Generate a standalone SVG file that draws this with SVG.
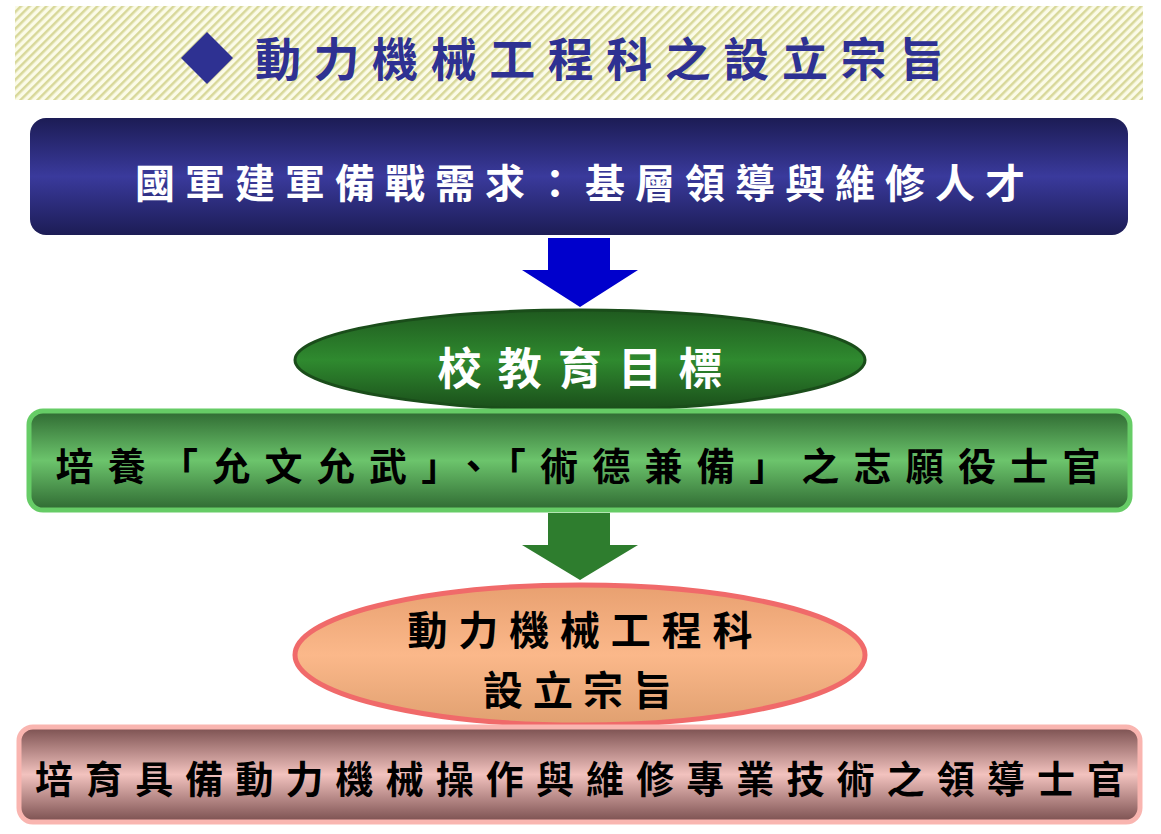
<svg xmlns="http://www.w3.org/2000/svg" width="1161" height="834" viewBox="0 0 1161 834">
<defs>
<pattern id="hatch" width="6" height="6" patternUnits="userSpaceOnUse" patternTransform="rotate(45)">
<rect width="6" height="6" fill="#fbfbe8"/><rect width="2.5" height="6" fill="#d8d89a"/>
</pattern>
<linearGradient id="gBlue" x1="0" y1="0" x2="0" y2="1"><stop offset="0" stop-color="#1c1c55"/><stop offset="0.5" stop-color="#3a3a9c"/><stop offset="1" stop-color="#1c1c55"/></linearGradient>
<linearGradient id="gGreenE" x1="0" y1="0" x2="0" y2="1"><stop offset="0" stop-color="#1f5a1f"/><stop offset="0.5" stop-color="#2f8a2f"/><stop offset="1" stop-color="#1a4d1a"/></linearGradient>
<linearGradient id="gGreen" x1="0" y1="0" x2="0" y2="1"><stop offset="0" stop-color="#2f6a32"/><stop offset="0.5" stop-color="#6cc46c"/><stop offset="1" stop-color="#2f6a32"/></linearGradient>
<linearGradient id="gPeach" x1="0" y1="0" x2="0" y2="1"><stop offset="0" stop-color="#e8a070"/><stop offset="0.5" stop-color="#fbb88a"/><stop offset="1" stop-color="#e0a070"/></linearGradient>
<linearGradient id="gPink" x1="0" y1="0" x2="0" y2="1"><stop offset="0" stop-color="#7a4f4f"/><stop offset="0.5" stop-color="#f2c2be"/><stop offset="1" stop-color="#7a4f4f"/></linearGradient>
<style>
text{font-family:"Noto Sans CJK TC","Noto Sans CJK SC",sans-serif;font-weight:bold;text-anchor:middle}
.w{fill:#fff}.k{fill:#000}
</style>
</defs>
<rect width="1161" height="834" fill="#fff"/>
<g id="title">
<rect x="15" y="6" width="1128" height="94" fill="url(#hatch)"/>
<polygon points="207,32 233,58 207,84 181,58" fill="#2e3192"/>
<text x="600" y="76" font-size="46" fill="#2e3192" textLength="690" lengthAdjust="spacing">動力機械工程科之設立宗旨</text>
</g>
<g id="n1">
<rect x="30" y="118" width="1098" height="117" rx="16" fill="url(#gBlue)"/>
<text class="w" x="580" y="198" font-size="40" textLength="890" lengthAdjust="spacing">國軍建軍備戰需求：基層領導與維修人才</text>
</g>
<g id="connectors">
<polygon points="548,238 610,238 610,270 638,270 580,307 522,270 548,270" fill="#0000cc"/>
<polygon points="548,513 610,513 610,545 638,545 580,580 522,545 548,545" fill="#2e7d2e"/>
</g>
<g id="n2">
<ellipse cx="580" cy="360" rx="285" ry="50" fill="url(#gGreenE)" stroke="#1a4d1a" stroke-width="3"/>
<text class="w" x="580" y="385" font-size="44" textLength="285" lengthAdjust="spacing">校教育目標</text>
</g>
<g id="n3">
<rect x="29" y="411" width="1101" height="99" rx="14" fill="url(#gGreen)" stroke="#66cc66" stroke-width="5"/>
<text class="k" x="578" y="480" font-size="38" textLength="1045" lengthAdjust="spacing">培養「允文允武」、「術德兼備」之志願役士官</text>
</g>
<g id="n4">
<ellipse cx="580" cy="655" rx="285" ry="70" fill="url(#gPeach)" stroke="#f06a6a" stroke-width="5"/>
<text class="k" x="580" y="645" font-size="40" textLength="345" lengthAdjust="spacing">動力機械工程科</text>
<text class="k" x="578" y="705" font-size="40" textLength="190" lengthAdjust="spacing">設立宗旨</text>
</g>
<g id="n5">
<rect x="19" y="727" width="1121" height="95" rx="14" fill="url(#gPink)" stroke="#f9b5b0" stroke-width="5"/>
<text class="k" x="580" y="793" font-size="38" textLength="1090" lengthAdjust="spacing">培育具備動力機械操作與維修專業技術之領導士官</text>
</g>
</svg>
